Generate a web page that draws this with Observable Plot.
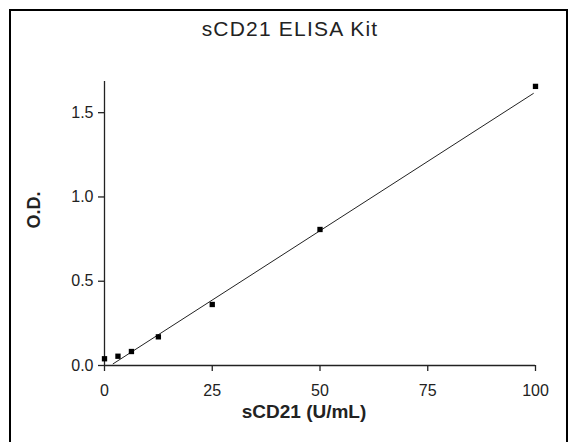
<!DOCTYPE html>
<html>
<head>
<meta charset="utf-8">
<script src="https://cdn.jsdelivr.net/npm/d3@7"></script>
<script src="https://cdn.jsdelivr.net/npm/@observablehq/plot@0.6"></script>
<style>
  html, body { margin: 0; padding: 0; background: white; overflow: hidden; }
  body { width: 577px; height: 442px; position: relative; font-family: "Liberation Sans", Arial, sans-serif; }
  #frame { position: absolute; left: 9px; top: 9px; width: 559px; height: 470px; box-sizing: border-box; border: 2px solid #000; }
  #title { position: absolute; left: 0; width: 580px; top: 17px; text-align: center; font-size: 21px; letter-spacing: 1.2px; color: #222; }
  #chart { position: absolute; left: 0; top: 60px; }
</style>
</head>
<body>
<div id="frame"></div>
<div id="title">sCD21 ELISA Kit</div>
<div id="chart"></div>
<script>
// Data
const concentration = [0, 3.125, 6.25, 12.5, 25, 50, 100];
const od = [0.04, 0.055, 0.083, 0.17, 0.362, 0.807, 1.656];
// fitted standard curve (endpoints)
const fitX = [2, 99.5];
const fitY = [0.01, 1.614];
const xTicks = [0, 25, 50, 75, 100];
const yTicks = [0, 0.5, 1.0, 1.5];
const xLabel = "sCD21 (U/mL)";
const yLabel = "O.D.";

const points = concentration.map((c, i) => ({x: c, y: od[i]}));
const fit = fitX.map((x, i) => ({x, y: fitY[i]}));
const yMax = 1.685;

const chart = Plot.plot({
  width: 577,
  height: 382,
  marginLeft: 104,
  marginRight: 42,
  marginTop: 21,
  marginBottom: 77,
  style: {background: "transparent", fontFamily: "'Liberation Sans', Arial, sans-serif", fontSize: "16px", color: "#222", overflow: "visible"},
  x: {domain: [0, 100]},
  y: {domain: [0, yMax]},
  marks: [
    Plot.axisX({ticks: xTicks, tickSize: 6, tickPadding: 13, label: null, strokeWidth: 1.3, stroke: "#222"}),
    Plot.axisY({ticks: yTicks, tickSize: 6, tickPadding: 5, tickFormat: d3.format(".1f"), label: null, strokeWidth: 1.3, stroke: "#222"}),
    Plot.ruleX([0], {y1: 0, y2: yMax, stroke: "#222", strokeWidth: 1.3}),
    Plot.ruleY([0], {x1: 0, x2: 100, stroke: "#222", strokeWidth: 1.3}),
    Plot.line(fit, {x: "x", y: "y", stroke: "#222", strokeWidth: 1}),
    Plot.dot(points, {x: "x", y: "y", symbol: "square", r: 3, fill: "#000", stroke: "none"}),
    Plot.text([xLabel], {frameAnchor: "bottom", dx: -16, dy: 52, fontWeight: "bold", fontSize: 19, letterSpacing: "0.6px", fill: "#222"}),
    Plot.text([yLabel], {frameAnchor: "left", rotate: -90, dx: -70, dy: 5, fontWeight: "bold", fontSize: 18, fill: "#222"})
  ]
});
document.getElementById("chart").appendChild(chart);
</script>
</body>
</html>
